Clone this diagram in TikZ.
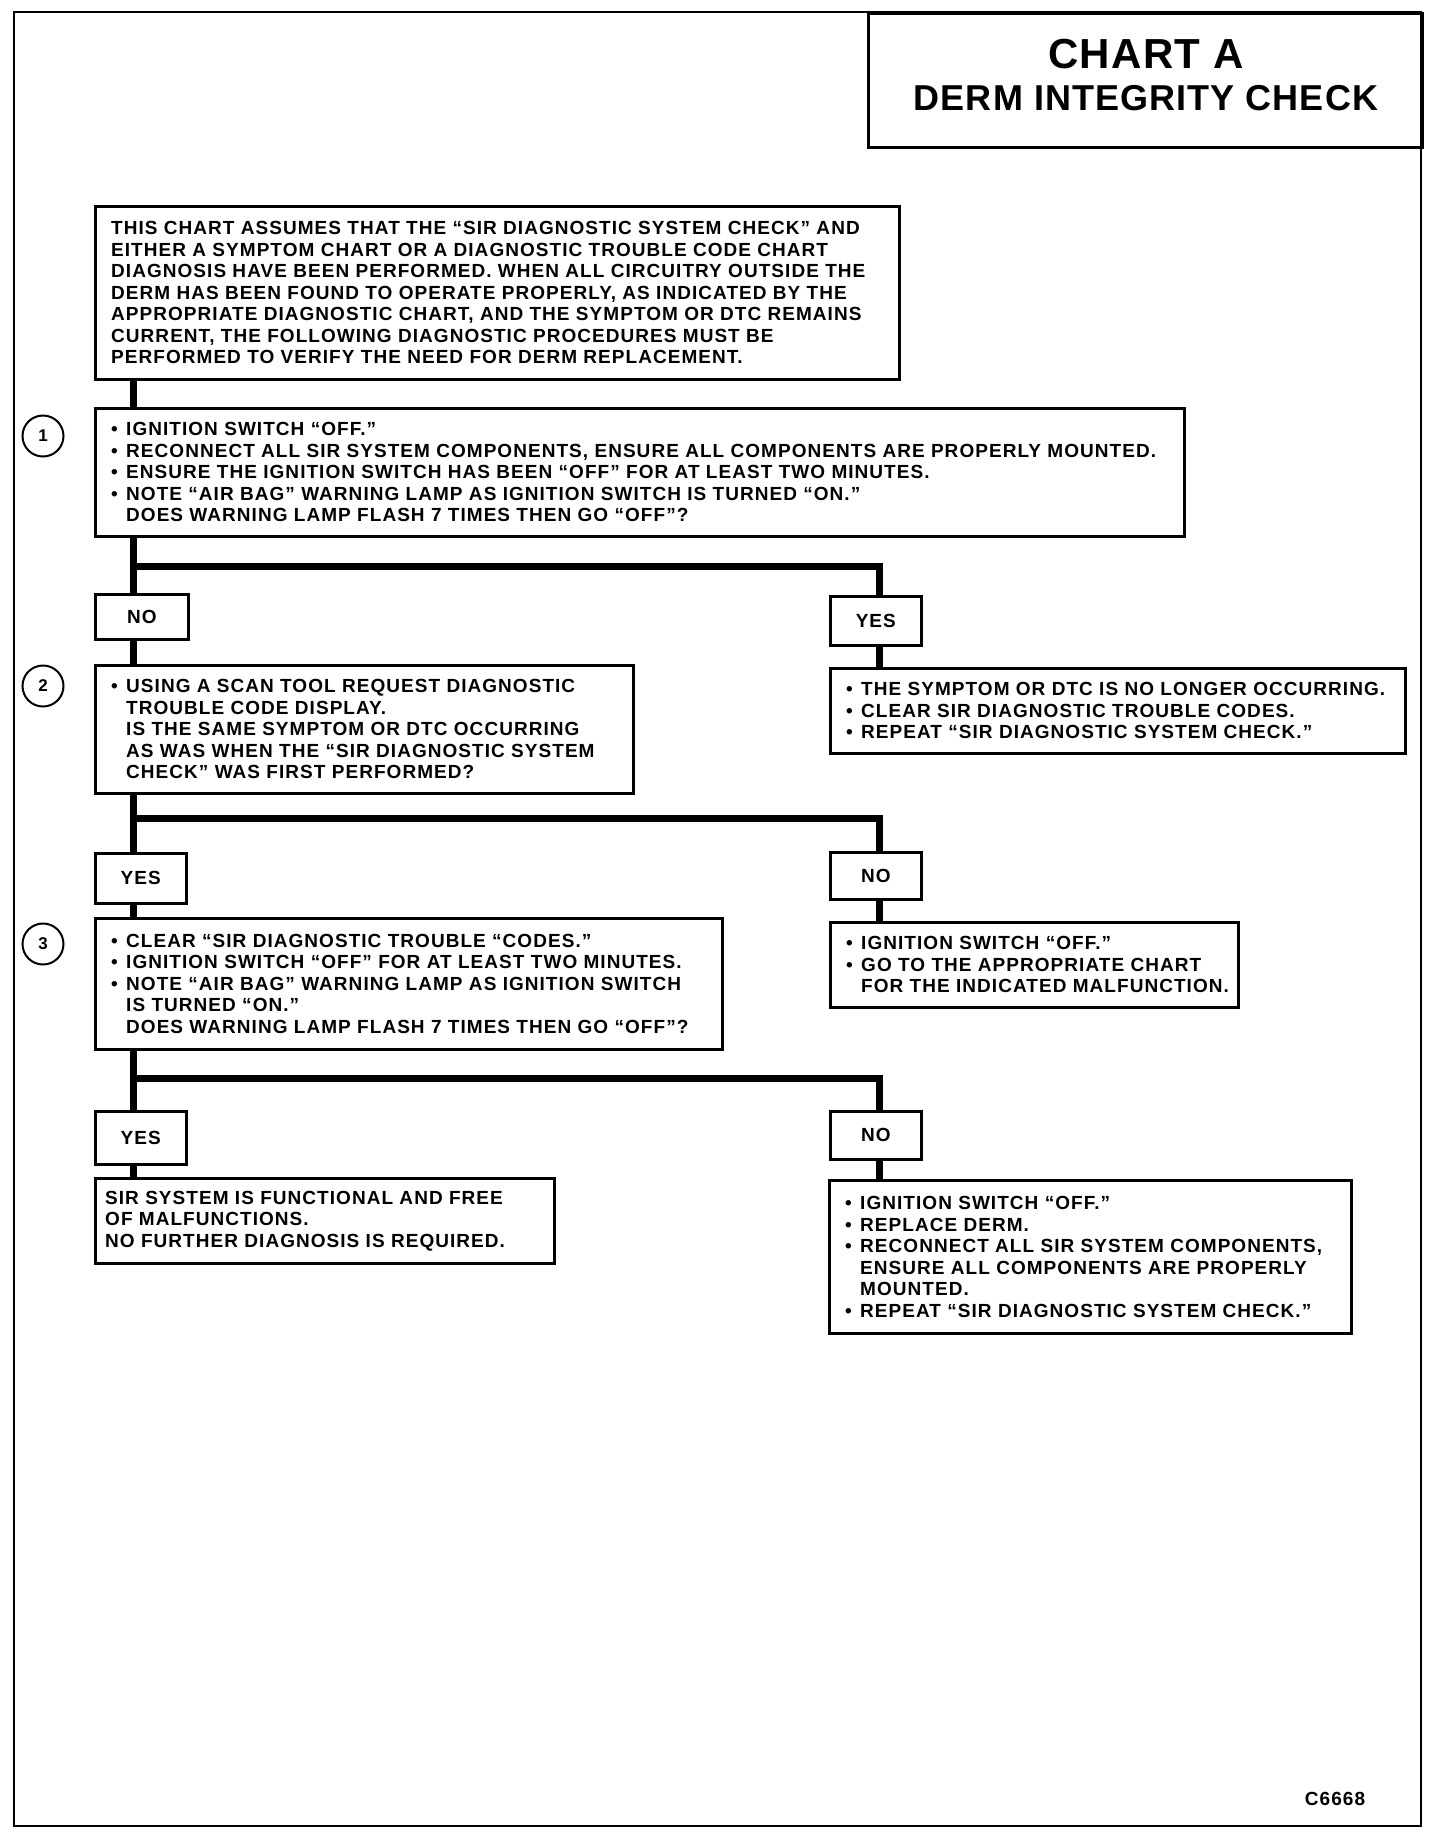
\documentclass[tikz,border=0pt]{standalone}
\usepackage{fontspec}
\setmainfont{Liberation Sans}[LetterSpace=5.5]
\newfontfamily\titlefont{Liberation Sans}[LetterSpace=3]
\newfontfamily\numfont{Liberation Sans}
\newcommand\bl{\makebox[15pt][l]{•}}
\newcommand\il{\hspace*{15pt}}
\begin{document}
\begin{tikzpicture}[x=1pt,y=-1pt,
  font=\bfseries\fontsize{19}{21.5}\selectfont,
  frame/.style={draw,line width=2.4pt},
  boxn/.style={draw,line width=2.6pt,anchor=north west,inner sep=0pt},
  lab/.style={draw,line width=2.6pt,anchor=north west,inner sep=0pt,align=center},
  txt/.style={anchor=west,inner sep=0pt,align=left},
  num/.style={draw,circle,line width=2pt,minimum size=41pt,inner sep=0pt,font=\numfont\bfseries\fontsize{17}{17}\selectfont},
  conn/.style={line width=7pt,line join=miter}]
\useasboundingbox (0,0) rectangle (1440,1832);
\draw[frame] (14,12) rectangle (1421,1826);
% title
\node[boxn,minimum width=554pt,minimum height=134pt] (title) at (867,12) {};
\node[anchor=base,inner sep=0pt,font=\titlefont\bfseries\fontsize{42}{42}\selectfont] (t1) at (1146,68) {CHART A};
\node[anchor=base,inner sep=0pt,font=\titlefont\bfseries\fontsize{36}{36}\selectfont] (t2) at (1146,110) {DERM INTEGRITY CHECK};
% coordinates
\coordinate (T) at (133,0);
\coordinate (R) at (879,0);
\coordinate (j1) at (0,566);
\coordinate (j2) at (0,818);
\coordinate (j3) at (0,1078);
% boxes
\node[boxn,minimum width=804pt,minimum height=173pt] (A) at (94,205) {};
\node[txt] (tA) at ([xshift=17pt]A.west) {THIS CHART ASSUMES THAT THE “SIR DIAGNOSTIC SYSTEM CHECK” AND\\
EITHER A SYMPTOM CHART OR A DIAGNOSTIC TROUBLE CODE CHART\\
DIAGNOSIS HAVE BEEN PERFORMED. WHEN ALL CIRCUITRY OUTSIDE THE\\
DERM HAS BEEN FOUND TO OPERATE PROPERLY, AS INDICATED BY THE\\
APPROPRIATE DIAGNOSTIC CHART, AND THE SYMPTOM OR DTC REMAINS\\
CURRENT, THE FOLLOWING DIAGNOSTIC PROCEDURES MUST BE\\
PERFORMED TO VERIFY THE NEED FOR DERM REPLACEMENT.};

\node[boxn,minimum width=1089pt,minimum height=128pt] (B1) at (94,407) {};
\node[txt] (tB1) at ([xshift=17pt]B1.west) {\bl IGNITION SWITCH “OFF.”\\
\bl RECONNECT ALL SIR SYSTEM COMPONENTS, ENSURE ALL COMPONENTS ARE PROPERLY MOUNTED.\\
\bl ENSURE THE IGNITION SWITCH HAS BEEN “OFF” FOR AT LEAST TWO MINUTES.\\
\bl NOTE “AIR BAG” WARNING LAMP AS IGNITION SWITCH IS TURNED “ON.”\\
\il DOES WARNING LAMP FLASH 7 TIMES THEN GO “OFF”?};
\node[num] (n1) at (43,436) {1};

\node[lab,minimum width=93pt,minimum height=45pt] (NO1) at (94,593) {NO};
\node[lab,minimum width=91pt,minimum height=49pt] (YES1) at (829,595) {YES};

\node[boxn,minimum width=538pt,minimum height=128pt] (B2) at (94,664) {};
\node[txt] (tB2) at ([xshift=17pt]B2.west) {\bl USING A SCAN TOOL REQUEST DIAGNOSTIC\\
\il TROUBLE CODE DISPLAY.\\
\il IS THE SAME SYMPTOM OR DTC OCCURRING\\
\il AS WAS WHEN THE “SIR DIAGNOSTIC SYSTEM\\
\il CHECK” WAS FIRST PERFORMED?};
\node[num] (n2) at (43,686) {2};

\node[boxn,minimum width=575pt,minimum height=85pt] (R1) at (829,667) {};
\node[txt] (tR1) at ([xshift=17pt]R1.west) {\bl THE SYMPTOM OR DTC IS NO LONGER OCCURRING.\\
\bl CLEAR SIR DIAGNOSTIC TROUBLE CODES.\\
\bl REPEAT “SIR DIAGNOSTIC SYSTEM CHECK.”};

\node[lab,minimum width=91pt,minimum height=50pt] (YES2) at (94,852) {YES};
\node[lab,minimum width=91pt,minimum height=47pt] (NO2) at (829,851) {NO};

\node[boxn,minimum width=627pt,minimum height=131pt] (B3) at (94,917) {};
\node[txt] (tB3) at ([xshift=17pt]B3.west) {\bl CLEAR “SIR DIAGNOSTIC TROUBLE “CODES.”\\
\bl IGNITION SWITCH “OFF” FOR AT LEAST TWO MINUTES.\\
\bl NOTE “AIR BAG” WARNING LAMP AS IGNITION SWITCH\\
\il IS TURNED “ON.”\\
\il DOES WARNING LAMP FLASH 7 TIMES THEN GO “OFF”?};
\node[num] (n3) at (43,944) {3};

\node[boxn,minimum width=408pt,minimum height=85pt] (R2) at (829,921) {};
\node[txt] (tR2) at ([xshift=17pt]R2.west) {\bl IGNITION SWITCH “OFF.”\\
\bl GO TO THE APPROPRIATE CHART\\
\il FOR THE INDICATED MALFUNCTION.};

\node[lab,minimum width=91pt,minimum height=53pt] (YES3) at (94,1110) {YES};
\node[lab,minimum width=91pt,minimum height=48pt] (NO3) at (829,1110) {NO};

\node[boxn,minimum width=459pt,minimum height=85pt] (RY) at (94,1177) {};
\node[txt] (tRY) at ([xshift=11pt]RY.west) {SIR SYSTEM IS FUNCTIONAL AND FREE\\
OF MALFUNCTIONS.\\
NO FURTHER DIAGNOSIS IS REQUIRED.};

\node[boxn,minimum width=522pt,minimum height=153pt] (RN) at (828,1179) {};
\node[txt] (tRN) at ([xshift=17pt]RN.west) {\bl IGNITION SWITCH “OFF.”\\
\bl REPLACE DERM.\\
\bl RECONNECT ALL SIR SYSTEM COMPONENTS,\\
\il ENSURE ALL COMPONENTS ARE PROPERLY\\
\il MOUNTED.\\
\bl REPEAT “SIR DIAGNOSTIC SYSTEM CHECK.”};

\node[anchor=base,inner sep=0pt] (code) at (1335,1805) {C6668};

% connectors
\draw[conn] (A.south -| T) -- (B1.north -| T);
\draw[conn] (B1.south -| T) -- (NO1.north -| T);
\draw[conn] (B1.south -| T) |- (j1 -| R) -- (YES1.north -| R);
\draw[conn] (NO1.south -| T) -- (B2.north -| T);
\draw[conn] (YES1.south -| R) -- (R1.north -| R);
\draw[conn] (B2.south -| T) -- (YES2.north -| T);
\draw[conn] (B2.south -| T) |- (j2 -| R) -- (NO2.north -| R);
\draw[conn] (YES2.south -| T) -- (B3.north -| T);
\draw[conn] (NO2.south -| R) -- (R2.north -| R);
\draw[conn] (B3.south -| T) -- (YES3.north -| T);
\draw[conn] (B3.south -| T) |- (j3 -| R) -- (NO3.north -| R);
\draw[conn] (YES3.south -| T) -- (RY.north -| T);
\draw[conn] (NO3.south -| R) -- (RN.north -| R);
\end{tikzpicture}
\end{document}
